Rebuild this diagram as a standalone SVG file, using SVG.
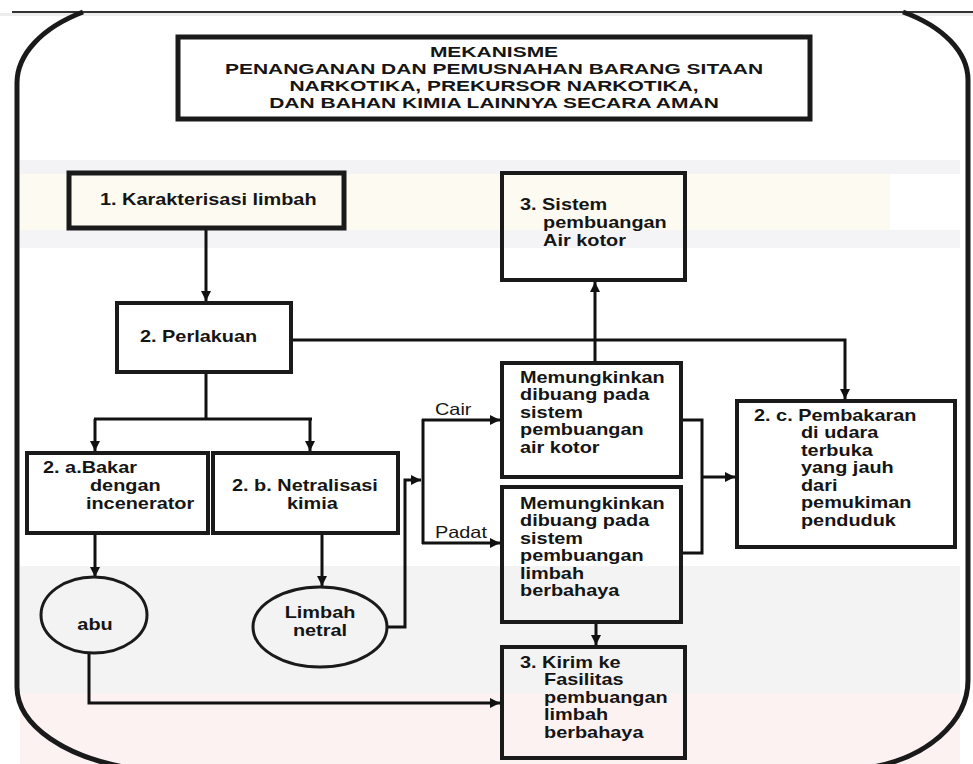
<svg xmlns="http://www.w3.org/2000/svg" width="973" height="764" viewBox="0 0 973 764">
<defs>
<marker id="ah" viewBox="0 0 10 10" refX="10" refY="5" markerWidth="11" markerHeight="10" markerUnits="userSpaceOnUse" orient="auto">
<path d="M0,0 L10,5 L0,10 z" fill="#111"/>
</marker>
</defs>
<style>
.box{fill:none;stroke:#1a1a1a;stroke-width:4}
.thick{stroke-width:5}
.ell{fill:none;stroke:#1a1a1a;stroke-width:3}
.ln{fill:none;stroke:#111;stroke-width:3}
.arr{fill:none;stroke:#111;stroke-width:3;marker-end:url(#ah)}
.t{font-family:"Liberation Sans",Arial,sans-serif;font-weight:bold;font-size:16.3px;fill:#151515}
.title{font-size:15px;text-anchor:middle}
.mid{text-anchor:middle}
.reg{font-weight:normal}
</style>
<rect width="973" height="764" fill="#ffffff"/>
<g id="background">
<rect x="20" y="160" width="940" height="14" fill="#f3f3f5"/>
<rect x="20" y="174" width="870" height="56" fill="#fdfbf1"/>
<rect x="20" y="230" width="940" height="18" fill="#f4f4f6"/>
<rect x="20" y="566" width="940" height="127" fill="#f3f3f3"/>
<rect x="20" y="693" width="940" height="71" fill="#fdf2f2"/>
<rect x="0" y="13" width="973" height="3" fill="#ededed"/>
</g>
<g id="frame">
<line x1="12" y1="12" x2="973" y2="12" stroke="#333" stroke-width="2"/>
<path d="M83,12 A147,85 0 0,0 17,83 L17,687 A161,85 0 0,0 136,769" fill="none" stroke="#1a1a1a" stroke-width="5"/>
<path d="M903,12 A137,80 0 0,1 968,80 L968,680 A128,90 0 0,1 867,768" fill="none" stroke="#1a1a1a" stroke-width="5"/>
</g>
<g id="connectors">
<line class="arr" x1="206" y1="228" x2="206" y2="301"/>
<polyline class="arr" points="291,340 845,340 845,399"/>
<line class="ln" x1="206" y1="372" x2="206" y2="419"/>
<line class="ln" x1="94" y1="419" x2="312" y2="419"/>
<line class="arr" x1="95" y1="419" x2="95" y2="451"/>
<line class="arr" x1="310" y1="419" x2="310" y2="451"/>
<line class="arr" x1="95" y1="533" x2="95" y2="577"/>
<line class="arr" x1="322" y1="533" x2="322" y2="586"/>
<polyline class="arr" points="89,653 89,703 500,703"/>
<polyline class="arr" points="387,627 405,627 405,480 421,480"/>
<line class="ln" x1="423" y1="419" x2="423" y2="544"/>
<line class="arr" x1="422" y1="420" x2="500" y2="420"/>
<line class="arr" x1="422" y1="543" x2="500" y2="543"/>
<line class="arr" x1="595" y1="362" x2="595" y2="282"/>
<polyline class="ln" points="681,420 702,420 702,553 681,553"/>
<line class="arr" x1="702" y1="477" x2="735" y2="477"/>
<line class="arr" x1="596" y1="622" x2="596" y2="645"/>
</g>
<g id="title">
<rect class="box thick" x="178" y="37" width="632" height="82"/>
<text class="t title" transform="translate(494 57) scale(1.4 1)"><tspan x="0" y="0">MEKANISME</tspan><tspan x="0" y="17">PENANGANAN DAN PEMUSNAHAN BARANG SITAAN</tspan><tspan x="0" y="34">NARKOTIKA, PREKURSOR NARKOTIKA,</tspan><tspan x="0" y="51">DAN BAHAN KIMIA LAINNYA SECARA AMAN</tspan></text>
</g>
<g id="n1">
<rect class="box thick" x="69" y="173" width="275" height="55"/>
<text class="t" transform="translate(100 205) scale(1.22 1)">1. Karakterisasi limbah</text>
</g>
<g id="n2">
<rect class="box" x="117" y="303" width="174" height="69"/>
<text class="t" transform="translate(140 342) scale(1.22 1)">2. Perlakuan</text>
</g>
<g id="n2a">
<rect class="box" x="27" y="453" width="181" height="80"/>
<text class="t" transform="translate(43 473) scale(1.22 1)"><tspan x="0" y="0">2. a.Bakar</tspan><tspan x="38.5" y="18">dengan</tspan><tspan x="35.2" y="36">incenerator</tspan></text>
</g>
<g id="n2b">
<rect class="box" x="213" y="453" width="185" height="80"/>
<text class="t" transform="translate(232 491) scale(1.22 1)"><tspan x="0" y="0">2. b. Netralisasi</tspan><tspan x="45" y="18">kimia</tspan></text>
</g>
<g id="abu">
<ellipse class="ell" cx="94" cy="615" rx="53" ry="38"/>
<text class="t mid" transform="translate(95 630) scale(1.22 1)">abu</text>
</g>
<g id="limbah-netral">
<ellipse class="ell" cx="320" cy="627" rx="67" ry="40"/>
<text class="t mid" transform="translate(320 618) scale(1.22 1)"><tspan x="0" y="0">Limbah</tspan><tspan x="0" y="18">netral</tspan></text>
</g>
<g id="labels">
<text class="t reg" transform="translate(435 415) scale(1.22 1)">Cair</text>
<text class="t reg" transform="translate(435 538) scale(1.22 1)">Padat</text>
</g>
<g id="n3-sistem">
<rect class="box" x="502" y="173" width="183" height="107"/>
<text class="t" transform="translate(520 210) scale(1.22 1)"><tspan x="0" y="0">3. Sistem</tspan><tspan x="18.9" y="18">pembuangan</tspan><tspan x="18.9" y="36">Air kotor</tspan></text>
</g>
<g id="m-cair">
<rect class="box" x="502" y="363" width="179" height="114"/>
<text class="t" transform="translate(520 383) scale(1.22 1)"><tspan x="0" y="0">Memungkinkan</tspan><tspan x="0" y="17.5">dibuang pada</tspan><tspan x="0" y="35">sistem</tspan><tspan x="0" y="52.5">pembuangan</tspan><tspan x="0" y="70">air kotor</tspan></text>
</g>
<g id="m-padat">
<rect class="box" x="502" y="487" width="179" height="135"/>
<text class="t" transform="translate(520 509) scale(1.22 1)"><tspan x="0" y="0">Memungkinkan</tspan><tspan x="0" y="17.5">dibuang pada</tspan><tspan x="0" y="35">sistem</tspan><tspan x="0" y="52.5">pembuangan</tspan><tspan x="0" y="70">limbah</tspan><tspan x="0" y="87.5">berbahaya</tspan></text>
</g>
<g id="n3-kirim">
<rect class="box" x="502" y="647" width="183" height="111"/>
<text class="t" transform="translate(520 668) scale(1.22 1)"><tspan x="0" y="0">3. Kirim ke</tspan><tspan x="19.7" y="17.5">Fasilitas</tspan><tspan x="19.7" y="35">pembuangan</tspan><tspan x="19.7" y="52.5">limbah</tspan><tspan x="19.7" y="70">berbahaya</tspan></text>
</g>
<g id="n2c">
<rect class="box" x="737" y="401" width="218" height="146"/>
<text class="t" transform="translate(754 421) scale(1.22 1)"><tspan x="0" y="0">2. c. Pembakaran</tspan><tspan x="38.5" y="17.5">di udara</tspan><tspan x="38.5" y="35">terbuka</tspan><tspan x="38.5" y="52.5">yang jauh</tspan><tspan x="38.5" y="70">dari</tspan><tspan x="38.5" y="87.5">pemukiman</tspan><tspan x="38.5" y="105">penduduk</tspan></text>
</g>
</svg>
